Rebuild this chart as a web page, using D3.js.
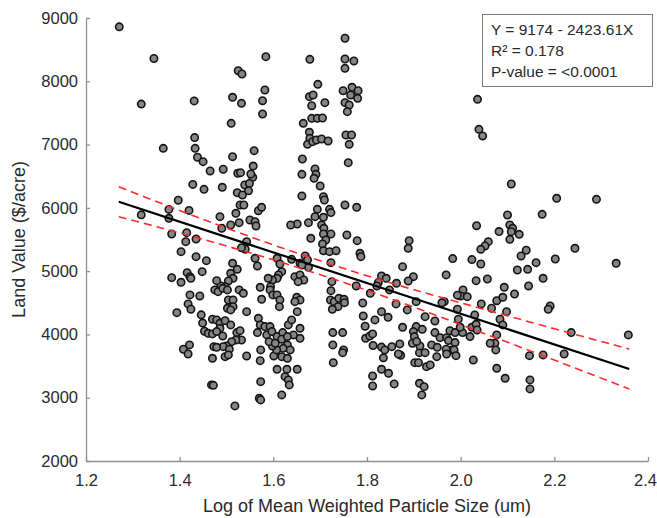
<!DOCTYPE html>
<html>
<head>
<meta charset="utf-8">
<script src="https://cdn.jsdelivr.net/npm/d3@7"></script>
<style>
  body { margin: 0; background: #fff; }
  svg text { font-family: "Liberation Sans", Arial, sans-serif; }
</style>
</head>
<body>
<div id="chart"></div>
<script>
// --- Data ---
const xTicks = [1.2, 1.4, 1.6, 1.8, 2.0, 2.2, 2.4];
const yTicks = [2000, 3000, 4000, 5000, 6000, 7000, 8000, 9000];

// regression from the legend
const intercept = 9174;
const slope = -2423.61;
const fitRange = [1.27, 2.36];

// 95% band, read at a few x positions
const bandX     = [1.27, 1.443, 1.636, 1.828, 2.0, 2.2, 2.36];
const bandUpper = [6333, 5837, 5322, 4864, 4500, 4090, 3770];
const bandLower = [5859, 5517, 5096, 4624, 4155, 3595, 3138];

const legendLines = ["Y = 9174 - 2423.61X", "R\u00b2 = 0.178", "P-value = <0.0001"];

// [log mean weighted particle size, land value]
const points = [
  [1.271,8860],[1.345,8360],[1.318,7640],[1.365,6940],[1.318,5890],[1.377,5975],[1.377,5835],
  [1.397,6120],[1.420,5960],[1.428,6370],[1.431,7690],[1.432,7110],[1.433,6940],[1.438,6800],
  [1.450,6730],[1.452,6293],[1.465,6583],[1.383,5587],[1.415,5608],[1.413,5466],[1.435,5508],
  [1.403,5308],[1.435,5229],[1.448,4992],[1.457,5166],[1.383,4897],[1.403,4824],[1.416,4976],
  [1.422,4913],[1.424,4887],[1.422,4624],[1.443,4608],[1.418,4482],[1.424,4398],[1.394,4344],
  [1.446,4310],[1.449,4180],[1.453,4050],[1.408,3766],[1.421,3834],[1.418,3691],
  [1.493,6610],[1.491,6325],[1.486,5861],[1.490,5677],[1.513,7747],[1.510,7336],[1.513,6809],
  [1.524,6546],[1.530,6556],[1.525,8167],[1.533,8115],[1.532,7652],[1.559,6904],[1.557,6661],
  [1.556,6483],[1.552,6535],[1.539,6361],[1.549,6385],[1.547,6271],[1.523,6240],[1.534,6203],
  [1.529,6045],[1.537,6045],[1.520,5914],[1.527,5766],[1.509,5729],[1.550,5808],[1.561,5782],
  [1.563,5714],[1.568,5955],[1.575,6009],[1.577,7483],[1.577,7693],[1.582,7862],[1.584,8389],
  [1.543,5466],[1.540,5346],[1.532,5370],[1.561,5203],[1.566,5082],
  [1.753,8680],[1.678,8347],[1.753,8352],[1.772,8321],[1.753,8205],[1.695,7952],[1.677,7757],
  [1.685,7783],[1.682,7614],[1.710,7662],[1.749,7851],[1.768,7905],[1.781,7851],[1.765,7783],
  [1.780,7731],[1.753,7662],[1.762,7625],[1.758,7520],[1.664,7336],[1.682,7415],[1.694,7415],
  [1.705,7420],[1.677,7194],[1.678,7099],[1.673,7004],[1.684,7046],[1.692,7072],[1.703,7088],
  [1.717,7057],[1.755,7151],[1.767,7151],[1.762,7004],[1.662,6772],[1.760,6714],[1.689,6614],
  [1.691,6530],[1.687,6467],[1.700,6346],[1.661,6530],[1.661,6188],[1.707,6177],[1.709,6124],
  [1.753,6045],[1.778,6009],[1.694,5977],[1.720,5977],[1.723,5925],
  [1.651,5745],[1.637,5729],[1.675,5766],[1.689,5861],[1.707,5851],[1.703,5729],[1.708,5677],
  [1.723,5587],[1.707,5587],[1.712,5492],[1.705,5429],[1.707,5323],[1.720,5308],[1.734,5323],
  [1.680,5519],[1.757,5571],[1.779,5482],[1.785,5282],[1.787,5229],[1.639,5187],[1.657,5124],
  [1.668,5240],[1.673,5176],[1.675,5060],[1.661,5097],[1.723,5134],[1.725,4834],[1.646,4913],
  [1.657,4939],[1.665,4860],[1.653,4834],[1.650,4587],[1.657,4544],[1.646,4518],[1.651,4360],
  [1.643,3992],[1.657,4097],[1.657,3939],[1.651,3449],
  [2.036,7715],[2.039,7241],[2.047,7136],[2.108,6377],[2.205,6151],[2.290,6135],[2.174,5898],
  [2.100,5887],[2.034,5718],[2.082,5626],[2.105,5729],[2.111,5677],[2.108,5624],[2.125,5582],
  [2.105,5503],[2.059,5466],[2.052,5398],[2.043,5345],[2.140,5330],[2.129,5240],[2.244,5361],
  [1.890,5482],[1.888,5361],[1.983,5198],[2.024,5183],
  [1.876,5071],[1.969,4940],[1.899,4913],[1.888,4845],[2.033,4850],[2.057,4876],[2.176,4887],
  [2.145,4766],[2.093,4745],[2.005,4703],[2.000,4608],[2.014,4597],[1.993,4620],[1.965,4518],
  [1.960,4500],[2.044,4482],[2.077,4533],[2.090,4587],[2.115,4639],[2.191,4450],[2.187,4398],
  [1.862,4482],[1.831,4360],[1.886,4387],[1.993,4398],[2.030,4308],[2.066,4414],[2.098,4360],
  [1.845,4271],[1.924,4281],[1.945,4213],[1.995,4240],[2.084,4240],[2.090,4150],[1.876,4113],
  [1.905,4124],[1.899,4045],[1.901,3966],[1.945,4029],[1.956,3949],[1.970,3949],[1.977,4060],
  [1.988,4029],[2.004,4029],[1.999,4113],[2.024,4113],[2.020,3966],[2.033,4160],[2.035,4070],
  [1.974,3903],[1.988,3871],[1.981,3755],[2.077,3992],[2.073,3861],[2.063,3861],[2.075,3755],
  [1.897,3861],[1.870,3850],[1.938,3834],[1.950,3797],[1.969,3766],[1.986,3755],[1.990,3665],
  [1.912,3712],[1.924,3712],[1.949,3649],[1.970,3691],[2.027,3596],[2.147,3665],[2.176,3676],
  [2.221,3691],[2.236,4029],[2.358,3992],[1.902,3554],[1.910,3554],[1.927,3491],[1.935,3518],
  [2.077,3465],[2.095,3307],[1.858,3218],[1.912,3228],[1.922,3175],[1.917,3044],[2.148,3281],
  [2.148,3139],[2.202,5192],[2.332,5124],[2.161,5134],[2.143,5029],[2.121,5018],[2.043,5113],
  [1.918,4080],[1.913,3818],[1.906,3890],[1.872,3670],[1.905,4518],
  [1.831,4924],[1.841,4887],[1.824,4818],[1.821,4766],[1.807,4650],[1.848,4703],[1.863,4808],
  [1.777,4766],[1.791,4497],[1.792,4292],[1.796,4130],[1.797,3939],[1.806,3975],[1.812,4008],
  [1.813,3825],[1.817,4229],[1.831,3800],[1.838,3755],[1.853,3807],[1.867,3691],[1.835,3630],
  [1.831,3449],[1.846,3386],[1.812,3344],[1.812,3186],
  [1.723,4692],[1.722,4544],[1.730,4518],[1.740,4571],[1.751,4555],[1.752,4502],[1.738,4439],
  [1.726,4397],[1.727,4029],[1.748,4029],[1.727,3834],[1.750,3755],[1.748,3712],[1.728,3554],
  [1.608,5203],[1.614,5113],[1.618,4992],[1.611,4939],[1.608,4887],[1.598,4860],[1.589,4887],
  [1.594,4755],[1.593,4703],[1.599,4624],[1.608,4624],[1.614,4544],[1.613,4439],
  [1.513,5124],[1.523,5029],[1.509,4966],[1.514,4887],[1.504,4845],[1.497,4755],[1.488,4766],
  [1.479,4850],[1.475,4703],[1.482,4676],[1.492,4729],[1.502,4703],[1.527,4703],[1.536,4650],
  [1.504,4544],[1.514,4544],[1.502,4413],[1.514,4439],[1.509,4387],[1.543,4360],[1.572,4745],
  [1.575,4555],[1.568,4255],[1.572,4150],[1.582,4124],[1.593,4124],[1.566,4029],[1.586,3992],
  [1.597,4045],[1.461,4018],[1.470,4008],[1.470,4240],[1.479,4229],[1.486,4176],[1.497,4218],
  [1.486,4097],[1.479,4045],[1.492,3976],[1.509,4150],[1.522,4029],[1.529,4060],[1.532,3912],
  [1.520,3912],[1.511,3886],[1.500,3818],[1.493,3807],[1.506,3766],[1.497,3649],[1.504,3676],
  [1.473,3807],[1.479,3797],[1.470,3623],[1.543,3660],[1.573,3755],[1.572,3586],[1.573,3254],
  [1.570,2991],[1.573,2965],[1.468,3202],[1.472,3195],[1.518,2870],
  [1.608,3966],[1.620,4029],[1.618,3924],[1.632,4150],[1.639,4229],[1.630,3966],[1.630,3834],
  [1.621,3781],[1.636,3755],[1.618,3649],[1.630,3623],[1.608,3449],[1.629,3449],[1.625,3333],
  [1.632,3281],[1.634,3202],[1.618,3044],[1.601,3660],[1.607,3755],[1.598,3818],[1.591,3886],
  [1.604,3861]
];

// --- Setup ---
const W = 657, H = 518;
const plot = { left: 86, right: 648, top: 18, bottom: 461 };
const axisColor = "#8f8f8f";
const labelColor = "#2a2a2a";

const svg = d3.select("#chart").append("svg")
    .attr("width", W)
    .attr("height", H);

const x = d3.scaleLinear().domain([1.2, 2.4]).range([plot.left, plot.right]);
const y = d3.scaleLinear().domain([2000, 9000]).range([plot.bottom, plot.top]);

// Axes (ticks point inward)
const xAxis = svg.append("g")
    .attr("transform", `translate(0,${plot.bottom})`)
    .call(d3.axisBottom(x).tickValues(xTicks).tickFormat(d3.format(".1f"))
        .tickSizeInner(-4).tickSizeOuter(0).tickPadding(13));

const yAxis = svg.append("g")
    .attr("transform", `translate(${plot.left},0)`)
    .call(d3.axisLeft(y).tickValues(yTicks).tickFormat(d3.format("d"))
        .tickSizeInner(-4).tickSizeOuter(0).tickPadding(8));

[xAxis, yAxis].forEach(g => {
    g.select(".domain").attr("stroke", axisColor).attr("stroke-width", 1.3);
    g.selectAll(".tick line").attr("stroke", axisColor).attr("stroke-width", 1.3);
    g.selectAll(".tick text")
        .attr("fill", labelColor)
        .style("font-family", '"Liberation Sans", Arial, sans-serif')
        .style("font-size", "16.5px");
});

// last x label sits at the page edge; nudge it in so it is not clipped
xAxis.selectAll(".tick text").filter(d => d === 2.4).attr("dx", -3);

// Axis titles
svg.append("text")
    .attr("x", (plot.left + plot.right) / 2)
    .attr("y", 512)
    .attr("text-anchor", "middle")
    .attr("fill", labelColor)
    .style("font-size", "18px")
    .text("Log of Mean Weighted Particle Size (um)");

svg.append("text")
    .attr("transform", `translate(25,${(plot.top + plot.bottom) / 2}) rotate(-90)`)
    .attr("text-anchor", "middle")
    .attr("fill", labelColor)
    .style("font-size", "18px")
    .text("Land Value ($/acre)");

// Scatter points
svg.append("g").selectAll("circle")
    .data(points)
    .join("circle")
    .attr("cx", d => x(d[0]))
    .attr("cy", d => y(d[1]))
    .attr("r", 3.7)
    .attr("fill", "#858585")
    .attr("stroke", "#141414")
    .attr("stroke-width", 1.6);

// Confidence band (dashed red)
const bandLine = d3.line()
    .x(d => x(d[0]))
    .y(d => y(d[1]))
    .curve(d3.curveNatural);

[bandUpper, bandLower].forEach(vals => {
    svg.append("path")
        .datum(bandX.map((bx, i) => [bx, vals[i]]))
        .attr("d", bandLine)
        .attr("fill", "none")
        .attr("stroke", "#ff2a2a")
        .attr("stroke-width", 1.6)
        .attr("stroke-dasharray", "8,5");
});

// Regression line
svg.append("line")
    .attr("x1", x(fitRange[0]))
    .attr("y1", y(intercept + slope * fitRange[0]))
    .attr("x2", x(fitRange[1]))
    .attr("y2", y(intercept + slope * fitRange[1]))
    .attr("stroke", "#000")
    .attr("stroke-width", 2.2);

// Legend box
const legend = svg.append("g");
legend.append("rect")
    .attr("x", 482.5).attr("y", 14.5)
    .attr("width", 170).attr("height", 72)
    .attr("fill", "#fff")
    .attr("stroke", "#7a7a7a")
    .attr("stroke-width", 1);

legend.selectAll("text")
    .data(legendLines)
    .join("text")
    .attr("x", 491)
    .attr("y", (d, i) => 35 + i * 21)
    .attr("fill", labelColor)
    .style("font-size", "15.5px")
    .text(d => d);
</script>
</body>
</html>
